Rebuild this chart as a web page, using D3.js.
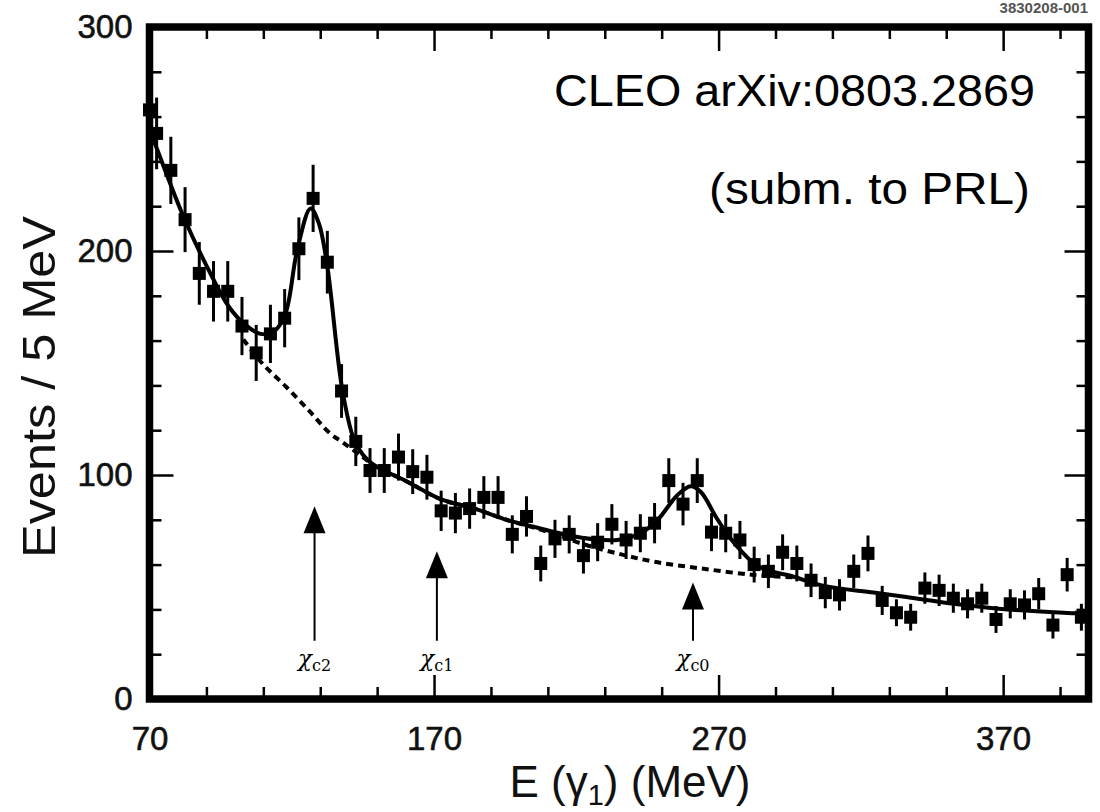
<!DOCTYPE html>
<html>
<head>
<meta charset="utf-8">
<script src="https://cdn.jsdelivr.net/npm/d3@7"></script>
<style>
  html, body { margin: 0; padding: 0; background: #fff; }
  svg { display: block; }
</style>
</head>
<body>
<svg id="chart" width="1100" height="812"></svg>
<script>
// ---------------- data ----------------
const energy = [70, 72.5, 77.5, 82.5, 87.5, 92.5, 97.5, 102.5, 107.5, 112.5, 117.5,
  122.5, 127.5, 132.5, 137.5, 142.5, 147.5, 152.5, 157.5, 162.5, 167.5,
  172.5, 177.5, 182.5, 187.5, 192.5, 197.5, 202.5, 207.5, 212.5, 217.5,
  222.5, 227.5, 232.5, 237.5, 242.5, 247.5, 252.5, 257.5, 262.5, 267.5,
  272.5, 277.5, 282.5, 287.5, 292.5, 297.5, 302.5, 307.5, 312.5, 317.5,
  322.5, 327.5, 332.5, 337.5, 342.5, 347.5, 352.5, 357.5, 362.5, 367.5,
  372.5, 377.5, 382.5, 387.5, 392.5, 397.5];
const events = [263, 252.5, 236, 214, 190, 182, 182, 166.5, 154.5, 163, 170,
  201, 223.5, 195, 137.5, 115, 102, 102, 108, 101.5, 99,
  84, 83, 85, 90, 90, 73.5, 81.5, 60.5, 71.5, 73.5,
  64, 70, 78, 71, 74, 78.5, 97.5, 87, 97.5, 74.5,
  74, 71, 60, 57, 65.5, 60.5, 53, 47.5, 46.5, 57,
  65, 44, 38.5, 36.5, 49.5, 48.5, 45, 42.5, 45, 35.5,
  42.5, 42, 47, 33, 55.5, 36.5];
const errors = [16, 16, 15, 14.5, 14, 13.5, 13.5, 13, 12.5, 13, 13,
  14, 15, 14, 12, 11, 10, 10, 10.5, 10, 10,
  9, 9, 9, 9.5, 9.5, 8.5, 9, 8, 8.5, 8.5,
  8, 8.5, 9, 8.5, 8.5, 9, 10, 9.5, 10, 8.5,
  8.5, 8.5, 8, 7.5, 8, 8, 7.5, 7, 7, 7.5,
  8, 6.5, 6, 6, 7, 7, 6.5, 6.5, 6.5, 6,
  6.5, 6.5, 7, 6, 7.5, 6];

// total fit (solid)
const fitE = [70, 72.1, 82, 92, 97.9, 103.7, 109, 113.7, 117.8, 121.9, 126.6, 129.5,
  132.5, 137.7, 141.8, 145, 148.8, 160.6, 172.3, 184, 195.7, 205, 216.8, 226.2,
  234.4, 242.6, 248.5, 255.5, 260.2, 263.7, 269.3, 274, 278, 282.3, 287, 295.3,
  307, 324.5, 336, 354, 371.5, 395, 400];
const fitV = [254, 247.3, 215.2, 188.5, 175.1, 167, 163, 164, 172.2, 200.4, 219, 212.4,
  193, 138.5, 116, 109, 104.5, 97, 89.2, 85.1, 79.9, 76.9, 73.2, 71.3,
  71, 74, 79.9, 91, 95, 92.5, 80.8, 72, 66, 60.7, 57.5, 55,
  50.5, 47.5, 45.5, 42.3, 40, 38.3, 38];

// background (dashed)
const bgE = [103, 109.5, 118, 126, 133.5, 138, 145, 148.8, 160.6, 172.3, 184, 195.7,
  205, 214, 221.5, 234.4, 247.3, 263.7, 282.4, 297];
const bgV = [160.5, 150, 139.4, 128.8, 118.5, 114.5, 108, 104.5, 97, 89.2, 85.1, 79.9,
  76.5, 73, 69.5, 65, 61.3, 58.3, 55.4, 54.3];

// arrows marking the chi_cJ lines
const chiNames = ["c2", "c1", "c0"];
const chiEnergy = [128, 171, 261];
const chiTip = [86, 66, 52];
const chiBase = 26;

// axes
const xMajorTicks = [70, 170, 270, 370];
const xMinorTicks = [90, 110, 130, 150, 190, 210, 230, 250, 290, 310, 330, 350, 390];
const yMajorTicks = [0, 100, 200, 300];
const yMinorTicks = [20, 40, 60, 80, 120, 140, 160, 180, 220, 240, 260, 280];

// ---------------- drawing ----------------
const svg = d3.select("#chart");
const L = 149.5, R = 1088.5, T = 27, B = 699;
const x = d3.scaleLinear().domain([70, 400]).range([L, R]);
const y = d3.scaleLinear().domain([0, 300]).range([B, T]);
const SANS = "'Liberation Sans', Arial, Helvetica, sans-serif";
const SERIF = "'DejaVu Serif', 'Liberation Serif', serif";

svg.append("rect").attr("width", 1100).attr("height", 812).attr("fill", "#fff");

// figure id at top right
svg.append("text").attr("x", 1088).attr("y", 13).attr("text-anchor", "end")
  .attr("font-family", SANS).attr("font-weight", "bold").attr("font-size", 15)
  .attr("fill", "#555").text("3830208-001");

function ticks(axisFn, scale, vals, size, transform) {
  const g = svg.append("g").attr("transform", transform)
    .call(axisFn(scale).tickValues(vals).tickSize(size).tickFormat(""));
  g.select(".domain").remove();
  g.selectAll(".tick line").attr("stroke", "#000").attr("stroke-width", 2.5);
}
// inner ticks
ticks(d3.axisBottom, x, xMinorTicks, -12, `translate(0,${B})`);
ticks(d3.axisBottom, x, xMajorTicks, -24, `translate(0,${B})`);
ticks(d3.axisTop, x, xMinorTicks, -12, `translate(0,${T})`);
ticks(d3.axisTop, x, xMajorTicks, -24, `translate(0,${T})`);
ticks(d3.axisLeft, y, yMinorTicks, -12, `translate(${L},0)`);
ticks(d3.axisLeft, y, yMajorTicks, -24, `translate(${L},0)`);
ticks(d3.axisRight, y, yMinorTicks, -12, `translate(${R},0)`);
ticks(d3.axisRight, y, yMajorTicks, -24, `translate(${R},0)`);

// tick labels
const xl = svg.append("g").attr("transform", `translate(0,${B})`)
  .call(d3.axisBottom(x).tickValues(xMajorTicks).tickSize(0).tickPadding(28).tickFormat(d3.format("d")));
xl.select(".domain").remove();
xl.selectAll("text").attr("font-family", SANS).attr("font-size", 33).attr("fill", "#111")
  .attr("stroke", "#111").attr("stroke-width", 0.6);
const yl = svg.append("g").attr("transform", `translate(${L},0)`)
  .call(d3.axisLeft(y).tickValues(yMajorTicks).tickSize(0).tickPadding(17).tickFormat(d3.format("d")));
yl.select(".domain").remove();
yl.selectAll("text").attr("font-family", SANS).attr("font-size", 33).attr("fill", "#111")
  .attr("stroke", "#111").attr("stroke-width", 0.6);

// background (dashed)
const line = d3.line().x(d => x(d[0])).y(d => y(d[1])).curve(d3.curveCatmullRom.alpha(0.5));
svg.append("path").datum(d3.zip(bgE, bgV)).attr("d", line)
  .attr("fill", "none").attr("stroke", "#000").attr("stroke-width", 4)
  .attr("stroke-dasharray", "7,5");
// total fit
svg.append("path").datum(d3.zip(fitE, fitV)).attr("d", line)
  .attr("fill", "none").attr("stroke", "#000").attr("stroke-width", 4)
  .attr("stroke-linejoin", "round");

// data points
const pts = d3.zip(energy, events, errors);
svg.append("g").selectAll("line").data(pts).join("line")
  .attr("x1", d => x(d[0])).attr("x2", d => x(d[0]))
  .attr("y1", d => y(d[1] - d[2])).attr("y2", d => y(d[1] + d[2]))
  .attr("stroke", "#000").attr("stroke-width", 3);
const S = 13;
svg.append("g").selectAll("rect").data(pts).join("rect")
  .attr("x", d => x(d[0]) - S / 2).attr("y", d => y(d[1]) - S / 2)
  .attr("width", S).attr("height", S).attr("fill", "#000");

// arrows
const arrows = svg.append("g");
chiEnergy.forEach((e, i) => {
  const ax = x(e), ty = y(chiTip[i]), by = y(chiBase);
  arrows.append("line").attr("x1", ax).attr("x2", ax).attr("y1", ty + 20).attr("y2", by)
    .attr("stroke", "#000").attr("stroke-width", 2);
  arrows.append("path")
    .attr("d", `M${ax},${ty} L${ax - 11},${ty + 27} L${ax + 11},${ty + 27} Z`)
    .attr("fill", "#000");
  const t = arrows.append("text").attr("x", ax).attr("y", by + 25).attr("text-anchor", "middle")
    .attr("font-family", SERIF).attr("font-size", 23).attr("fill", "#000");
  t.append("tspan").attr("font-style", "italic").text("χ");
  t.append("tspan").attr("font-size", 16).attr("dy", 5).text(chiNames[i]);
});

// frame
svg.append("rect").attr("x", L).attr("y", T).attr("width", R - L).attr("height", B - T)
  .attr("fill", "none").attr("stroke", "#000").attr("stroke-width", 7.5);

// axis titles
const xt = svg.append("text").attr("x", 630).attr("y", 797).attr("text-anchor", "middle")
  .attr("font-family", SANS).attr("font-size", 44).attr("fill", "#111");
xt.append("tspan").text("E (γ");
xt.append("tspan").attr("font-size", 29).attr("dy", 8).text("1");
xt.append("tspan").attr("dy", -8).text(") (MeV)");

svg.append("text").attr("transform", "translate(55,387) rotate(-90)")
  .attr("text-anchor", "middle").attr("font-family", SANS).attr("font-size", 47)
  .attr("textLength", 342).attr("lengthAdjust", "spacingAndGlyphs")
  .attr("fill", "#111").text("Events / 5 MeV");

// annotation
svg.append("text").attr("x", 1035).attr("y", 106).attr("text-anchor", "end")
  .attr("font-family", SANS).attr("font-size", 45).attr("fill", "#000")
  .attr("textLength", 481).attr("lengthAdjust", "spacingAndGlyphs")
  .text("CLEO arXiv:0803.2869");
svg.append("text").attr("x", 1030).attr("y", 204).attr("text-anchor", "end")
  .attr("font-family", SANS).attr("font-size", 45).attr("fill", "#000")
  .attr("textLength", 321).attr("lengthAdjust", "spacingAndGlyphs")
  .text("(subm. to PRL)");
</script>
</body>
</html>
